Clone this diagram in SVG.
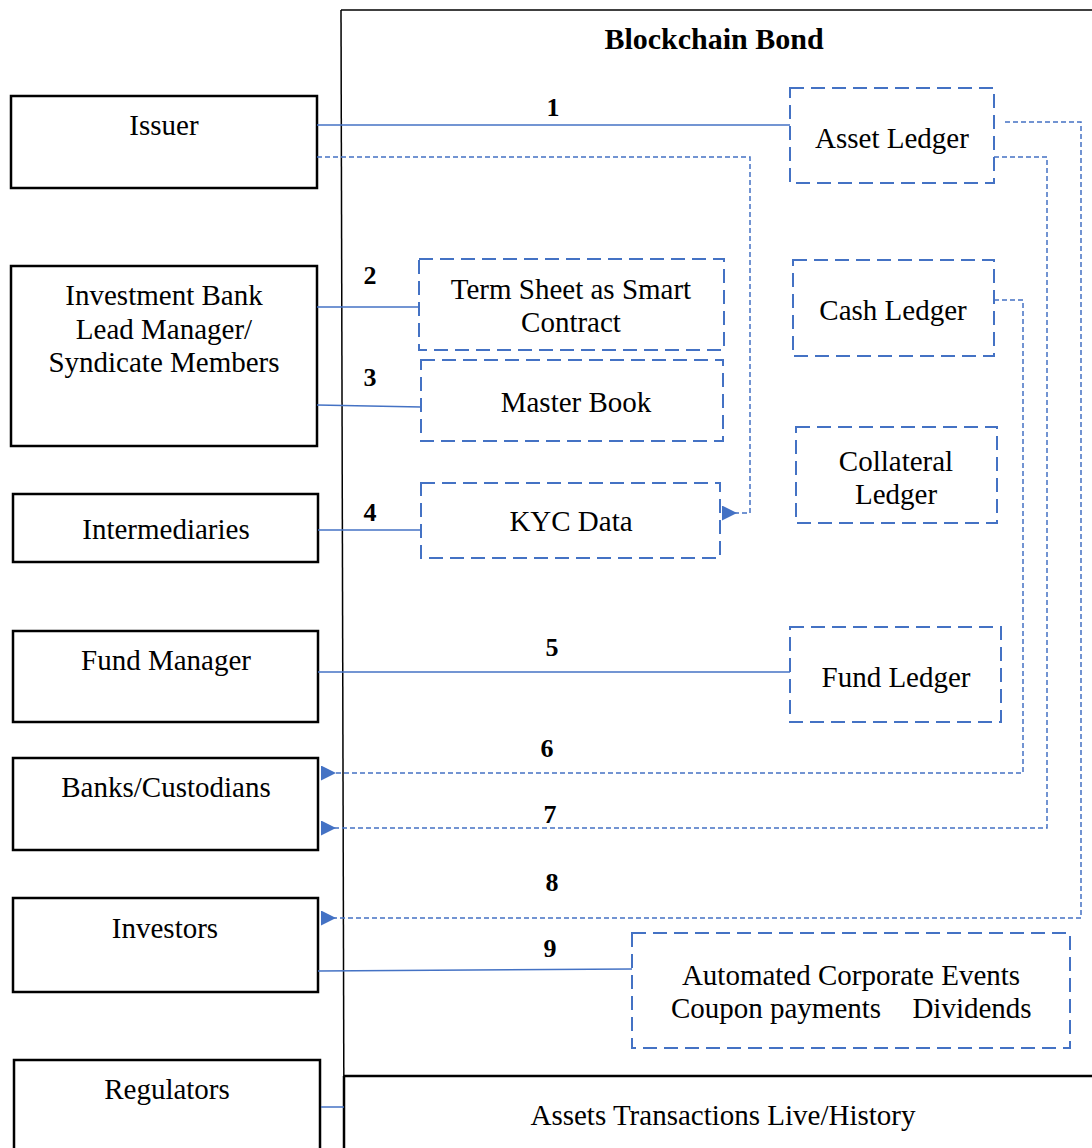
<svg xmlns="http://www.w3.org/2000/svg" width="1092" height="1148" viewBox="0 0 1092 1148">
<defs>
<style>
.ext{fill:#fff;stroke:#000;stroke-width:2.5}
.led{fill:none;stroke:#4472C4;stroke-width:2;stroke-dasharray:14 7}
.t{font-family:"Liberation Serif","Times New Roman",serif;font-size:29px;fill:#000;text-anchor:middle}
.n{font-family:"Liberation Serif","Times New Roman",serif;font-size:26px;font-weight:bold;fill:#000;text-anchor:middle}
.sl{fill:none;stroke:#4472C4;stroke-width:1.5}
.dl{fill:none;stroke:#4472C4;stroke-width:1.5;stroke-dasharray:5 3}
</style>
<marker id="arr" viewBox="0 0 10 10" refX="2" refY="5" markerWidth="15" markerHeight="15" markerUnits="userSpaceOnUse" orient="auto">
<path d="M0,5 L10,0 L10,10 Z" fill="#4472C4"/>
</marker>
</defs>
<rect width="1092" height="1148" fill="#fff"/>

<g id="container">
<path d="M341,10 L1092,10" stroke="#000" stroke-width="1.5" fill="none"/>
<path d="M341,10 L344,1148" stroke="#000" stroke-width="1.5" fill="none"/>
<text x="714" y="49" class="n" style="font-size:30px">Blockchain Bond</text>
</g>

<g id="history">
<path d="M344,1076 L1092,1076 M344,1076 L344,1148" stroke="#000" stroke-width="2.5" fill="none"/>
<text x="723" y="1125" class="t">Assets Transactions Live/History</text>
</g>

<g id="issuer"><rect class="ext" x="11" y="96" width="306" height="92"/><text x="164" y="135" class="t">Issuer</text></g>
<g id="investment-bank"><rect class="ext" x="11" y="266" width="306" height="180"/>
<text x="164" y="305" class="t">Investment Bank</text>
<text x="164" y="339" class="t">Lead Manager/</text>
<text x="164" y="372" class="t">Syndicate Members</text></g>
<g id="intermediaries"><rect class="ext" x="13" y="494" width="305" height="68"/><text x="166" y="539" class="t">Intermediaries</text></g>
<g id="fund-manager"><rect class="ext" x="13" y="631" width="305" height="91"/><text x="166" y="670" class="t">Fund Manager</text></g>
<g id="banks"><rect class="ext" x="13" y="758" width="305" height="92"/><text x="166" y="797" class="t">Banks/Custodians</text></g>
<g id="investors"><rect class="ext" x="13" y="898" width="305" height="94"/><text x="165" y="938" class="t">Investors</text></g>
<g id="regulators"><rect class="ext" x="14" y="1060" width="306" height="100"/><text x="167" y="1099" class="t">Regulators</text></g>

<g id="asset-ledger"><rect class="led" x="790" y="88" width="204" height="95"/><text x="892" y="148" class="t">Asset Ledger</text></g>
<g id="term-sheet"><rect class="led" x="419" y="259" width="305" height="91"/>
<text x="571" y="299" class="t">Term Sheet as Smart</text>
<text x="571" y="332" class="t">Contract</text></g>
<g id="master-book"><rect class="led" x="421" y="360" width="302" height="81"/><text x="576" y="412" class="t">Master Book</text></g>
<g id="kyc"><rect class="led" x="421" y="483" width="299" height="75"/><text x="571" y="531" class="t">KYC Data</text></g>
<g id="cash-ledger"><rect class="led" x="793" y="260" width="201" height="96"/><text x="893" y="320" class="t">Cash Ledger</text></g>
<g id="collateral-ledger"><rect class="led" x="796" y="427" width="201" height="96"/>
<text x="896" y="471" class="t">Collateral</text>
<text x="896" y="504" class="t">Ledger</text></g>
<g id="fund-ledger"><rect class="led" x="790" y="627" width="211" height="95"/><text x="896" y="687" class="t">Fund Ledger</text></g>
<g id="corporate-events"><rect class="led" x="632" y="933" width="438" height="115"/>
<text x="851" y="985" class="t">Automated Corporate Events</text>
<text x="776" y="1018" class="t">Coupon payments</text>
<text x="972" y="1018" class="t">Dividends</text></g>

<g id="connectors">
<path class="sl" d="M317,125 L790,125"/>
<path class="dl" d="M317,157 L750,157 L750,513 L734,513" marker-end="url(#arr)"/>
<path class="sl" d="M317,307 L419,307"/>
<path class="sl" d="M317,405 L421,407"/>
<path class="sl" d="M318,530 L421,530"/>
<path class="sl" d="M318,672 L790,672"/>
<path class="dl" d="M994,300 L1023,300 L1023,773 L333,773" marker-end="url(#arr)"/>
<path class="dl" d="M994,157 L1047,157 L1047,828 L333,828" marker-end="url(#arr)"/>
<path class="dl" d="M1005,122 L1081,122 L1081,918 L333,918" marker-end="url(#arr)"/>
<path class="sl" d="M318,971 L632,969"/>
<path class="sl" d="M321,1107 L344,1107"/>
<text x="553" y="116" class="n">1</text>
<text x="370" y="284" class="n">2</text>
<text x="370" y="386" class="n">3</text>
<text x="370" y="521" class="n">4</text>
<text x="552" y="656" class="n">5</text>
<text x="547" y="757" class="n">6</text>
<text x="550" y="823" class="n">7</text>
<text x="552" y="891" class="n">8</text>
<text x="550" y="957" class="n">9</text>
</g>
</svg>
